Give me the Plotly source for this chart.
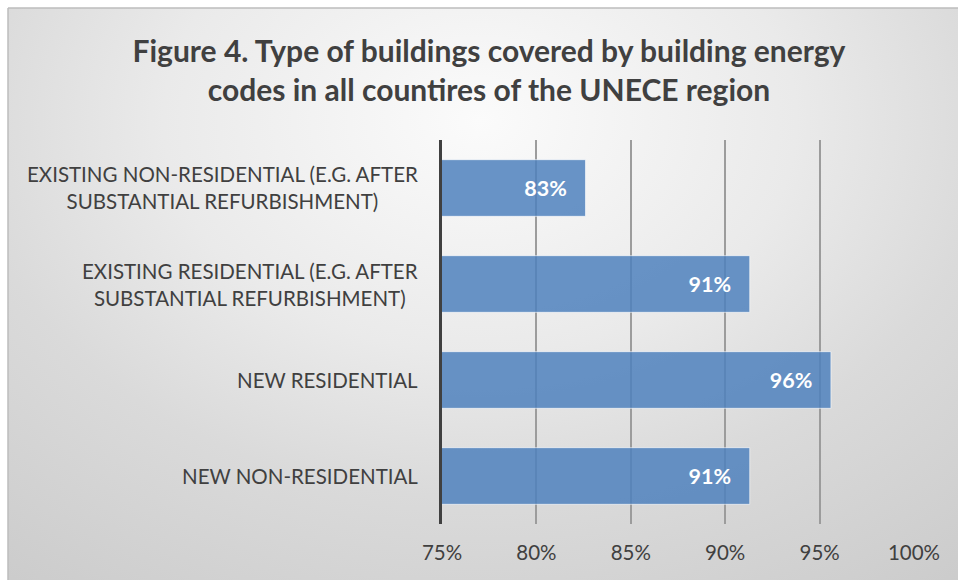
import plotly.graph_objects as go

categories = [
    "EXISTING NON-RESIDENTIAL (E.G. AFTER<br>SUBSTANTIAL REFURBISHMENT)",
    "EXISTING RESIDENTIAL (E.G. AFTER<br>SUBSTANTIAL REFURBISHMENT)",
    "NEW RESIDENTIAL",
    "NEW NON-RESIDENTIAL",
]
values = [0.826, 0.913, 0.956, 0.913]
tick_vals = [0.75, 0.80, 0.85, 0.90, 0.95, 1.00]
tick_text = ["75%", "80%", "85%", "90%", "95%", "100%"]
title_text = ("Figure 4. Type of buildings covered by building energy<br>"
              "codes in all countires of the UNECE region")

FONT = "Lato"
TXT = "#404040"
W, H = 958, 580
ML, MT = 8, 8
PW, PH = W - ML, H - MT

def px_x(x):
    return (x - ML) / PW

def px_y(y):
    return (H - y) / PH

x_dom = [px_x(442), px_x(914)]
y_dom = [px_y(524), px_y(140)]

# radial background geometry (in full-paper background axes)
cx, cy = px_x(480), px_y(120)
rx, ry = 0.9, 1.1

fig = go.Figure()

fig.add_trace(go.Scatter(
    x=[cx - rx, cx + rx, cx + rx, cx - rx, cx - rx],
    y=[cy - ry, cy - ry, cy + ry, cy + ry, cy - ry],
    mode="lines", line=dict(width=0), fill="toself",
    fillgradient=dict(type="radial",
                      colorscale=[[0, "#fbfbfb"], [0.37, "#eaeaea"],
                                  [0.6, "#dadada"], [1, "#c8c8c8"]]),
    hoverinfo="skip", showlegend=False, xaxis="x", yaxis="y",
))

fig.add_trace(go.Bar(
    x=values, y=categories, orientation="h",
    marker=dict(color="rgba(79,129,189,0.85)",
                line=dict(color="rgba(255,255,255,0.6)", width=1)),
    texttemplate="%{x:.0%}\u00a0\u00a0\u00a0",
    textposition="inside", insidetextanchor="end",
    textfont=dict(family=FONT, size=21.5, color="white", weight="bold"),
    hoverinfo="skip", showlegend=False,
    xaxis="x2", yaxis="y2",
))

for c in categories:
    fig.add_annotation(
        x=x_dom[0], xref="paper", y=c, yref="y2",
        text=c, showarrow=False, xanchor="right", xshift=-22,
        align="center", font=dict(family=FONT, size=20.5, color=TXT),
    )

border = dict(color="#bdbdbd", width=1.5)

fig.update_layout(
    width=W, height=H,
    margin=dict(l=ML, r=0, t=MT, b=0, autoexpand=False),
    paper_bgcolor="white", plot_bgcolor="rgba(0,0,0,0)",
    bargap=0.41,
    title=dict(text=title_text, x=489 / W, xref="container", xanchor="center",
               y=1 - 62 / H, yref="container", yanchor="middle",
               font=dict(family=FONT, size=30, color=TXT, weight="bold")),
    xaxis=dict(domain=[0, 1], range=[0, 1], visible=False, fixedrange=True,
               automargin=False),
    yaxis=dict(domain=[0, 1], range=[0, 1], visible=False, fixedrange=True,
               automargin=False),
    xaxis2=dict(domain=x_dom, anchor="y2", range=[0.75, 1.0],
                tickvals=tick_vals, ticktext=tick_text, automargin=False,
                showgrid=True, gridcolor="#9c9c9c", gridwidth=1.5,
                zeroline=False, showline=False,
                ticks="outside", ticklen=10, tickcolor="rgba(0,0,0,0)",
                tickfont=dict(family=FONT, size=20.5, color=TXT)),
    yaxis2=dict(domain=y_dom, anchor="x2", autorange="reversed", automargin=False,
                showticklabels=False, showgrid=False, zeroline=False,
                showline=True, linecolor="#404040", linewidth=3),
    shapes=[
        dict(type="line", xref="paper", yref="paper", x0=0, y0=1, x1=1, y1=1,
             line=border),
        dict(type="line", xref="paper", yref="paper", x0=0, y0=0, x1=0, y1=1,
             line=border),
    ],
)

fig.write_html(
    "out.html",
    config={"responsive": False, "displayModeBar": False},
    post_script="document.body.style.margin='0';document.body.style.overflow='hidden';",
)
